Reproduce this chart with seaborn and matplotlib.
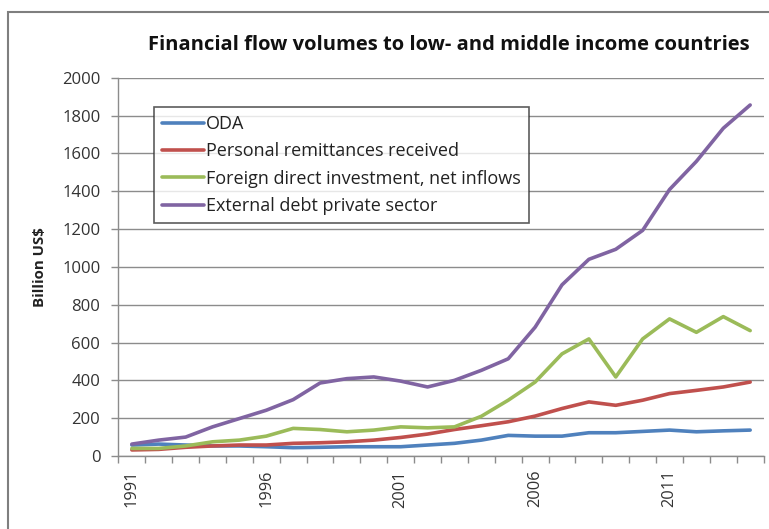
import matplotlib
matplotlib.use("Agg")
import matplotlib.pyplot as plt
import matplotlib.patches as mpatches
import numpy as np
import pandas as pd
import seaborn as sns

years = list(range(1991, 2015))

oda = [58, 63, 58, 53, 53, 49, 44, 46, 49, 49, 49, 58, 67, 84, 109, 105,
       105, 123, 123, 130, 137, 128, 133, 137]
remittances = [32, 35, 46, 53, 58, 58, 67, 70, 75, 84, 98, 116, 140, 160, 181, 211,
               251, 286, 268, 295, 330, 347, 365, 391]
fdi = [40, 40, 53, 75, 84, 105, 146, 140, 128, 137, 154, 149, 154, 210, 295, 391,
       540, 619, 418, 619, 725, 654, 737, 663]
debt_private = [63, 84, 100, 154, 198, 242, 298, 386, 409, 418, 396, 365, 400, 453, 514, 681,
                905, 1040, 1093, 1193, 1409, 1558, 1733, 1856]

series_names = ["ODA", "Personal remittances received",
                "Foreign direct investment, net inflows", "External debt private sector"]
series_values = [oda, remittances, fdi, debt_private]
colors = ["#4F81BD", "#C0504D", "#9BBB59", "#8064A2"]

title = "Financial flow volumes to low- and middle income countries"
y_label = "Billion US$"
x_tick_years = [1991, 1996, 2001, 2006, 2011]

df = pd.concat(
    [pd.DataFrame({"Year": years, "Value": vals, "Series": name})
     for name, vals in zip(series_names, series_values)],
    ignore_index=True,
)

sns.set_theme(style="white")
plt.rcParams["font.family"] = ["Open Sans", "DejaVu Sans"]

fig = plt.figure(figsize=(7.69, 5.29), dpi=100)
ax = fig.add_axes([0.154, 0.138, 0.839, 0.715])

sns.lineplot(data=df, x="Year", y="Value", hue="Series", hue_order=series_names,
             palette=colors, linewidth=2.6, ax=ax, legend=False)

ax.set_xlim(years[0] - 0.5, years[-1] + 0.5)
ax.set_ylim(0, 2000)
ax.set_yticks(np.arange(0, 2001, 200))
ax.yaxis.grid(True, color="#8c8c8c", linewidth=1)
ax.xaxis.grid(False)
ax.set_axisbelow(True)

for side in ["top", "right"]:
    ax.spines[side].set_visible(False)
for side in ["left", "bottom"]:
    ax.spines[side].set_color("#8c8c8c")
    ax.spines[side].set_linewidth(1)

ax.set_xticks(x_tick_years)
ax.set_xticklabels([str(y) for y in x_tick_years], rotation=90, fontsize=11.8, color="#333333")
ax.set_xticks(np.arange(years[0] - 0.5, years[-1] + 1.0, 1.0), minor=True)
ax.tick_params(axis="x", which="major", length=0, pad=10)
ax.tick_params(axis="x", which="minor", length=5, color="#8c8c8c", width=1, direction="out",
               bottom=True)
ax.tick_params(axis="y", which="major", length=5, color="#8c8c8c", width=1, direction="out",
               left=True, labelsize=12, labelcolor="#333333", pad=8)

ax.set_xlabel("")
ax.set_ylabel(y_label, fontsize=10.8, fontweight="bold", color="#222222", labelpad=11)

handles = [plt.Line2D([0], [0], color=c, linewidth=2.6) for c in colors]
leg = ax.legend(handles, series_names, loc="upper left", bbox_to_anchor=(0.0557, 0.923),
                frameon=True, fancybox=False, fontsize=13, handlelength=2.3,
                handletextpad=0.1, borderpad=0.45, labelspacing=0.52, borderaxespad=0)
leg.get_frame().set_edgecolor("#333333")
leg.get_frame().set_linewidth(1.2)
for t in leg.get_texts():
    t.set_color("#222222")

fig.text(0.584, 0.915, title, ha="center", va="center", fontsize=14.5, fontweight="bold",
         color="#111111")

# outer chart frame
fig.patches.append(mpatches.Rectangle((8 / 769, -0.05), 1.2, 1.05 - 12 / 529,
                                      transform=fig.transFigure, fill=False,
                                      edgecolor="#7f7f7f", linewidth=1.5))

fig.savefig("out.png", dpi=100)
